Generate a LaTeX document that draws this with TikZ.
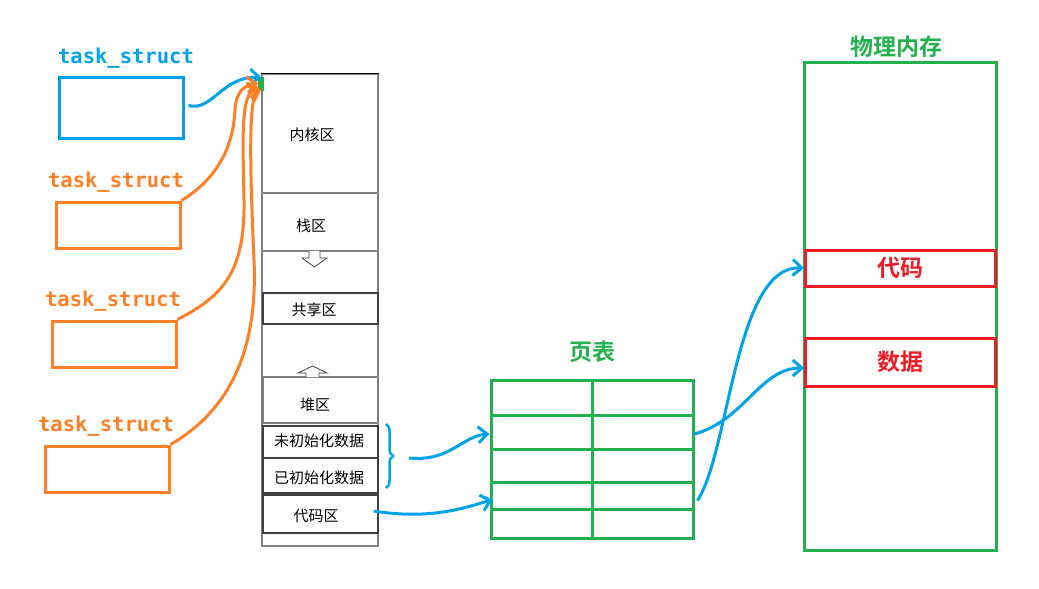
\documentclass[tikz,border=0pt]{standalone}
\usepackage{fontspec}
\usepackage{tikz}
\usetikzlibrary{arrows.meta, positioning, calc, decorations.pathreplacing}
\newfontfamily\cjk{Noto Sans CJK SC}[BoldFont={Noto Sans CJK SC Bold}]
\newfontfamily\tsfont{DejaVu Sans Mono}
\definecolor{tsblue}{HTML}{00A2E8}
\definecolor{tsorange}{HTML}{FF7F27}
\definecolor{pgreen}{HTML}{22B14C}
\definecolor{pred}{HTML}{ED1C24}
\definecolor{linegray}{HTML}{808080}
\definecolor{boxgray}{HTML}{404040}

\begin{document}
\begin{tikzpicture}[x=1pt, y=-1pt,
    tsbox/.style={rectangle, draw, line width=3pt, minimum width=124pt, minimum height=46pt, inner sep=0pt},
    tslabel/.style={font=\tsfont\bfseries\fontsize{20.5}{22}\selectfont, inner sep=0pt},
    memlabel/.style={font=\cjk\fontsize{15}{18}\selectfont, inner sep=0pt},
    membox/.style={rectangle, draw=boxgray, line width=1.2pt, minimum width=115pt, inner sep=0pt},
    title/.style={font=\cjk\bfseries\fontsize{23}{26}\selectfont, text=pgreen, inner sep=0pt},
    redbox/.style={rectangle, draw=pred, line width=3pt, minimum width=190pt, inner sep=0pt,
        font=\cjk\bfseries\fontsize{23}{26}\selectfont, text=pred},
    cell/.style={rectangle, draw=pgreen, line width=3pt, minimum width=101pt, inner sep=0pt},
    pen/.style={line width=3pt, -{Straight Barb[length=9pt, width=16pt]}},
    ]
\useasboundingbox (0,0) rectangle (1039,589);

% task_struct boxes
\node[tsbox, draw=tsblue, minimum height=61pt] (ts1) at (121,107.5) {};
\node[tsbox, draw=tsorange] (ts2) at (118,225) {};
\node[tsbox, draw=tsorange] (ts3) at (114,344) {};
\node[tsbox, draw=tsorange] (ts4) at (107,469) {};
\node[tslabel, text=tsblue] (tl1) at (126,58.5) {task\_struct};
\node[tslabel, text=tsorange] (tl2) at (116,182.5) {task\_struct};
\node[tslabel, text=tsorange] (tl3) at (113,301.5) {task\_struct};
\node[tslabel, text=tsorange] (tl4) at (106,426.5) {task\_struct};

% virtual address space
\node[rectangle, draw=linegray, line width=1.2pt, minimum width=116pt, minimum height=472pt, inner sep=0pt] (mem) at (320,310) {};
\draw[black, line width=0.8pt] (mem.north west) -- (mem.north east);
\draw[linegray, line width=1.2pt] (262,193) -- (378,193);
\draw[linegray, line width=1.2pt] (262,251) -- (378,251);
\node[memlabel] (kernel) at (312,135) {内核区};
\node[memlabel] (stack) at (311,226) {栈区};
\node[membox, minimum height=31pt] (share) at (320.5,308.5) {};
\node[memlabel] (sharelbl) at (314,310) {共享区};
\node[membox, draw=linegray, minimum height=46pt] (heap) at (320.5,400) {};
\node[memlabel] (heaplbl) at (315,405) {堆区};
\node[membox, minimum height=32pt] (bss) at (320.5,442) {};
\node[memlabel] (bsslbl) at (319,441) {未初始化数据};
\node[membox, minimum height=35pt] (data) at (320.5,475.5) {};
\node[memlabel] (datalbl) at (319,478) {已初始化数据};
\node[membox, minimum height=38pt] (text) at (320.5,514) {};
\node[memlabel] (textlbl) at (316,516) {代码区};

% growth arrows
\draw[boxgray, fill=white, line width=0.8pt] (309,251) -- (309,258) -- (302,258) -- (314.5,267) -- (327,258) -- (320,258) -- (320,251);
\draw[boxgray, fill=white, line width=0.8pt] (306,377) -- (306,373) -- (298,373) -- (312.5,366) -- (327,373) -- (319,373) -- (319,377);

% page table
\node[title] (pttitle) at (592,352) {页表};
\foreach \r/\top/\bot in {1/380/415, 2/415/449, 3/449/482, 4/482/509, 5/509/538} {
    \node[cell, minimum height={(\bot-\top)*1pt}] (pt\r l) at (541.5,{(\top+\bot)/2}) {};
    \node[cell, minimum height={(\bot-\top)*1pt}] (pt\r r) at (642.5,{(\top+\bot)/2}) {};
}

% physical memory
\node[title] (phystitle) at (896,47) {物理内存};
\node[rectangle, draw=pgreen, line width=3pt, minimum width=192pt, minimum height=488pt, inner sep=0pt] (phys) at (900,306) {};
\node[redbox, minimum height=36pt] (code) at (900.5,268) {代码};
\node[redbox, minimum height=48pt] (pdata) at (900.5,362) {数据};

% pointers to the address space
\fill[pgreen] (258,77) rectangle (264,91);
\draw[pen, tsblue] ([xshift=4pt,yshift=2pt]ts1.east) .. controls (212,112) and (222,76) .. ([yshift=-4pt]mem.north west);
\draw[pen, tsorange] (ts2.north east) .. controls (215,180) and (233,150) .. (235,110) .. controls (236,92) and (244,85) .. ([xshift=-3pt,yshift=-10pt]mem.north west);
\draw[pen, tsorange] (ts3.north east) .. controls (225,295) and (245,270) .. (244,200) .. controls (243,140) and (240,93) .. ([xshift=-2pt,yshift=-14pt]mem.north west);
\draw[pen, tsorange] (ts4.north east) .. controls (230,410) and (258,350) .. (254,260) .. controls (250,170) and (248,95) .. ([yshift=-16pt]mem.north west);

% data and code segments to the page table
\draw[tsblue, line width=2.5pt, decorate, decoration={brace, amplitude=7pt}] (386,424) -- (386,488);
\coordinate (brtip) at (409,458);
\draw[pen, tsblue] (brtip) .. controls (450,462) and (462,436) .. ([yshift=-2pt]pt2l.west);
\draw[pen, tsblue] ([xshift=-5pt,yshift=3pt]text.east) .. controls (430,520) and (465,508) .. ([xshift=3pt,yshift=-4pt]pt4l.west);

% page table to physical memory
\draw[pen, tsblue] ([yshift=-2pt]pt2r.east) .. controls (745,420) and (760,368) .. ([yshift=-6pt]pdata.west);
\draw[pen, tsblue] ([xshift=3pt,yshift=-5pt]pt4r.east) .. controls (730,450) and (735,265) .. (code.west);

\end{tikzpicture}
\end{document}
